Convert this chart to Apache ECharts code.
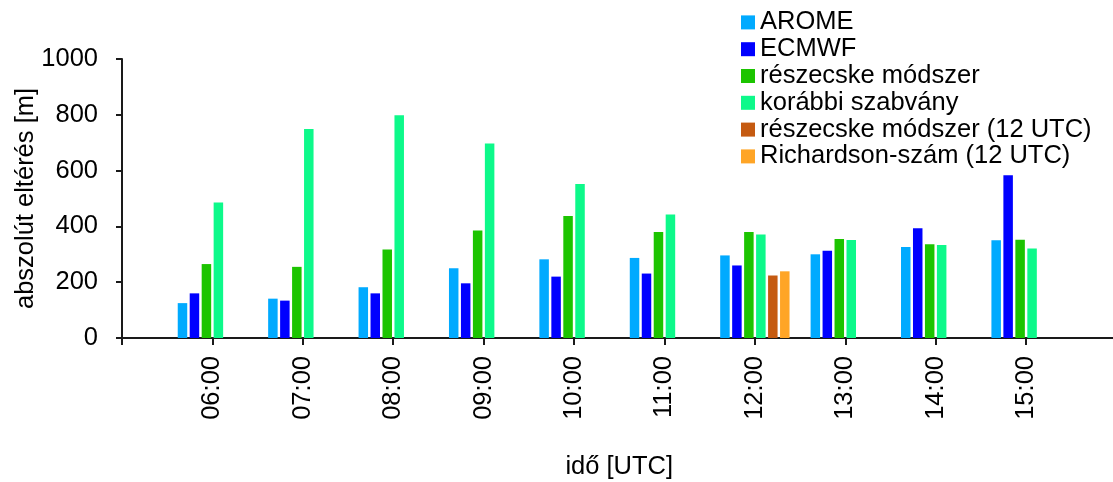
<!DOCTYPE html>
<html>
<head>
<meta charset="utf-8">
<script src="https://cdn.jsdelivr.net/npm/echarts@6/dist/echarts.min.js"></script>
<style>
  html, body { margin: 0; padding: 0; background: #fff; }
  #chart { width: 1113px; height: 482px; }
</style>
</head>
<body>
<div id="chart"></div>
<script>
// Hours of the day (UTC) and their tick labels
const hours = [6, 7, 8, 9, 10, 11, 12, 13, 14, 15];
const tickLabels = ['06:00', '07:00', '08:00', '09:00', '10:00', '11:00', '12:00', '13:00', '14:00', '15:00'];

// Absolute deviation of the boundary layer height [m]
const arome      = [125, 141, 182, 250, 282, 287, 296, 300, 326, 350];
const ecmwf      = [160, 134, 160, 196, 220, 231, 260, 313, 393, 583];
const reszecske  = [265, 255, 317, 385, 437, 380, 380, 355, 336, 352];
const korabbi    = [486, 749, 798, 697, 552, 443, 371, 351, 333, 321];

// Values available only at 12 UTC
const hours12       = [12];
const reszecske12   = [224];
const richardson12  = [239];

const seriesNames = ['AROME', 'ECMWF', 'részecske módszer', 'korábbi szabvány',
                     'részecske módszer (12 UTC)', 'Richardson-szám (12 UTC)'];
const seriesColors = ['#00AAFF', '#0000FF', '#1CC400', '#0DF98A', '#C55A11', '#FFA526'];

function pairs(xs, ys) { return xs.map((x, i) => [x, ys[i]]); }

const seriesData = [
  pairs(hours, arome),
  pairs(hours, ecmwf),
  pairs(hours, reszecske),
  pairs(hours, korabbi),
  pairs(hours12, reszecske12),
  pairs(hours12, richardson12)
];

const FONT = 'Liberation Sans, Arial, sans-serif';
const FS = 25.5;
const axisLine = { show: true, lineStyle: { color: '#1a1a1a', width: 2 } };

const chart = echarts.init(document.getElementById('chart'), null, { renderer: 'canvas' });
chart.setOption({
  animation: false,
  backgroundColor: '#ffffff',
  textStyle: { fontFamily: FONT },
  legend: {
    orient: 'vertical',
    left: 736,
    top: 4,
    itemWidth: 14,
    itemHeight: 14,
    itemGap: 0,
    icon: 'rect',
    textStyle: { fontFamily: FONT, fontSize: FS, color: '#000', lineHeight: 26.8 },
    data: seriesNames
  },
  grid: {
    left: 122, top: 59, width: 994.5, height: 279,
    containLabel: false,
    outerBoundsMode: 'none'
  },
  xAxis: {
    type: 'value',
    min: 5,
    max: 16,
    interval: 1,
    name: 'idő [UTC]',
    nameLocation: 'middle',
    nameGap: 116,
    nameMoveOverlap: false,
    nameTextStyle: { fontFamily: FONT, fontSize: FS, color: '#000' },
    axisLine: axisLine,
    axisTick: { show: true, length: 7, lineStyle: { color: '#1a1a1a', width: 2 } },
    splitLine: { show: false },
    axisLabel: {
      rotate: 90,
      margin: 18,
      fontFamily: FONT,
      fontSize: FS,
      color: '#000',
      showMinLabel: true,
      showMaxLabel: true,
      formatter: function (v) {
        const i = hours.indexOf(v);
        return i >= 0 ? tickLabels[i] : '';
      }
    }
  },
  yAxis: {
    type: 'value',
    min: 0,
    max: 1000,
    interval: 200,
    name: 'abszolút eltérés [m]',
    nameLocation: 'middle',
    nameGap: 83,
    nameMoveOverlap: false,
    nameTextStyle: { fontFamily: FONT, fontSize: FS, color: '#000' },
    axisLine: axisLine,
    axisTick: { show: true, length: 6, lineStyle: { color: '#1a1a1a', width: 2 } },
    splitLine: { show: false },
    axisLabel: {
      margin: 24, fontFamily: FONT, fontSize: FS, color: '#000',
      formatter: function (v) { return String(v); }
    }
  },
  series: seriesNames.map((name, i) => ({
    name: name,
    type: 'bar',
    data: seriesData[i],
    barWidth: 9.5,
    barGap: '26%',
    itemStyle: { color: seriesColors[i] }
  }))
});
</script>
</body>
</html>
